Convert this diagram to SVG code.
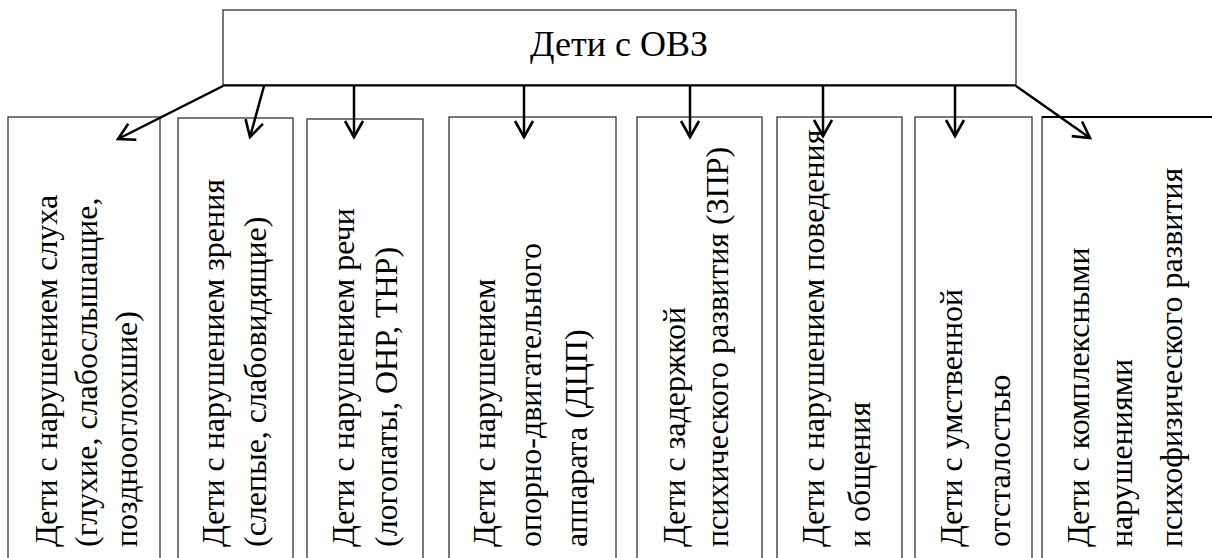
<svg xmlns="http://www.w3.org/2000/svg" width="1212" height="558" viewBox="0 0 1212 558">
<style>
.box{fill:#fff;stroke:#333;stroke-width:1.3}
.t{font-family:"Liberation Serif","Times New Roman","DejaVu Serif",serif;fill:#000}
.v{font-size:32px}
.c{stroke:#000;stroke-width:2.5;fill:none}
</style>
<defs>
<marker id="ah" markerUnits="userSpaceOnUse" markerWidth="30" markerHeight="30" refX="0" refY="0" viewBox="-20 -15 30 30" orient="auto" overflow="visible">
<path d="M-16,-9 L0,0 L-16,9" fill="none" stroke="#000" stroke-width="2.6"/>
</marker>
</defs>
<rect width="1212" height="558" fill="#fff"/>
<g id="root">
<rect class="box" x="223" y="10" width="793" height="75"/>
<line x1="223" y1="85.5" x2="1016" y2="85.5" stroke="#000" stroke-width="2"/>
<text class="t" x="619" y="56" font-size="36" text-anchor="middle">Дети с ОВЗ</text>
</g>
<g id="n1">
<rect class="box" x="8" y="117" width="152" height="460"/>
<text class="t v" transform="translate(57,547) rotate(-90)">Дети с нарушением слуха</text>
<text class="t v" transform="translate(97,547) rotate(-90)">(глухие, слабослышащие,</text>
<text class="t v" transform="translate(137,547) rotate(-90)">позднооглохшие)</text>
</g>
<g id="n2">
<rect class="box" x="178" y="118" width="115" height="460"/>
<text class="t v" transform="translate(224,547) rotate(-90)">Дети с нарушением зрения</text>
<text class="t v" transform="translate(266,547) rotate(-90)">(слепые, слабовидящие)</text>
</g>
<g id="n3">
<rect class="box" x="307" y="119" width="116" height="460"/>
<text class="t v" transform="translate(354,547) rotate(-90)">Дети с нарушением речи</text>
<text class="t v" transform="translate(397,547) rotate(-90)">(логопаты, ОНР, ТНР)</text>
</g>
<g id="n4">
<rect class="box" x="449" y="117" width="167" height="460"/>
<text class="t v" transform="translate(495,547) rotate(-90)">Дети с нарушением</text>
<text class="t v" transform="translate(541,547) rotate(-90)">опорно-двигательного</text>
<text class="t v" transform="translate(587,547) rotate(-90)">аппарата (ДЦП)</text>
</g>
<g id="n5">
<rect class="box" x="637" y="117" width="125" height="460"/>
<text class="t v" transform="translate(685,547) rotate(-90)">Дети с задержкой</text>
<text class="t v" transform="translate(728,547) rotate(-90)">психического развития (ЗПР)</text>
</g>
<g id="n6">
<rect class="box" x="777" y="117" width="125" height="460"/>
<text class="t v" transform="translate(824,547) rotate(-90)">Дети с нарушением поведения</text>
<text class="t v" transform="translate(870,547) rotate(-90)">и общения</text>
</g>
<g id="n7">
<rect class="box" x="915" y="117" width="117" height="460"/>
<text class="t v" transform="translate(962,547) rotate(-90)">Дети с умственной</text>
<text class="t v" transform="translate(1010,547) rotate(-90)">отсталостью</text>
</g>
<g id="n8">
<path d="M1042,580 V117 H1212" fill="none" stroke="#333" stroke-width="1.3"/>
<line x1="1042" y1="117" x2="1212" y2="117" stroke="#000" stroke-width="2"/>
<text class="t v" transform="translate(1089,547) rotate(-90)">Дети с комплексными</text>
<text class="t v" transform="translate(1132,547) rotate(-90)">нарушениями</text>
<text class="t v" transform="translate(1182,547) rotate(-90)">психофизического развития</text>
</g>
<g id="connectors">
<line class="c" x1="223" y1="86" x2="118" y2="139" marker-end="url(#ah)"/>
<line class="c" x1="264" y1="86" x2="250" y2="137" marker-end="url(#ah)"/>
<line class="c" x1="354" y1="86" x2="354" y2="137" marker-end="url(#ah)"/>
<line class="c" x1="524" y1="86" x2="524" y2="137" marker-end="url(#ah)"/>
<line class="c" x1="690" y1="86" x2="690" y2="137" marker-end="url(#ah)"/>
<line class="c" x1="823" y1="86" x2="823" y2="136" marker-end="url(#ah)"/>
<line class="c" x1="955" y1="86" x2="955" y2="136" marker-end="url(#ah)"/>
<line class="c" x1="1016" y1="86" x2="1090" y2="138" marker-end="url(#ah)"/>
</g>
</svg>
